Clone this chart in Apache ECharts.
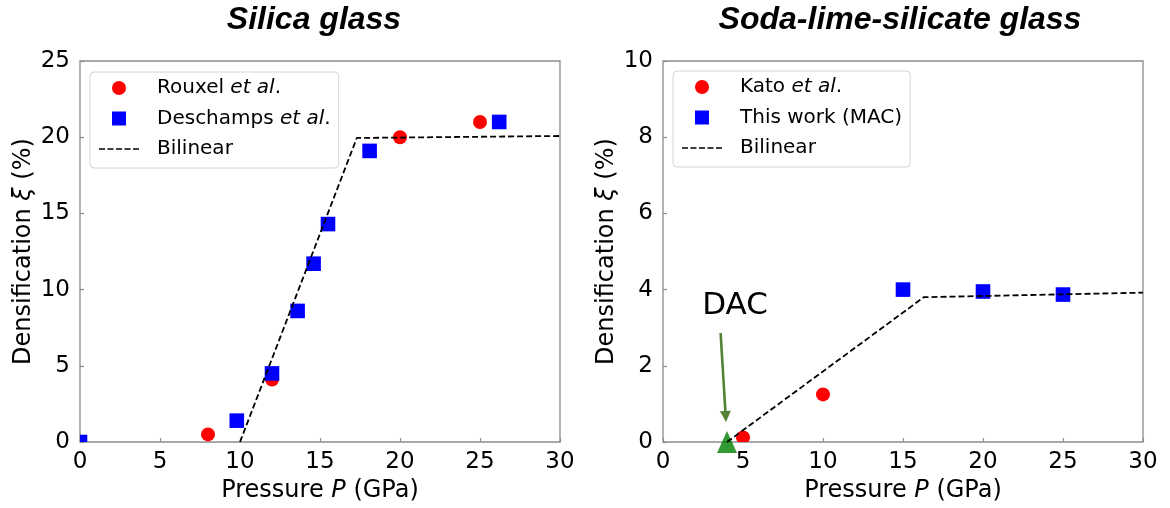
<!DOCTYPE html>
<html>
<head>
<meta charset="utf-8">
<script src="https://cdn.jsdelivr.net/npm/echarts@6/dist/echarts.min.js"></script>
<style>
  html, body { margin: 0; padding: 0; background: #ffffff; }
  #chart { width: 1170px; height: 508px; }
</style>
</head>
<body>
<div id="chart"></div>
<script>
// ---- Silica glass: densification vs pressure ----
const silicaRouxel = [[8, 0.5], [12, 4.1], [20, 20.0], [25, 21.0]];
const silicaDeschamps = [[0, 0], [9.8, 1.4], [12, 4.5], [13.6, 8.6], [14.6, 11.7], [15.5, 14.3], [18.1, 19.1], [26.2, 21.0]];
const silicaBilinear = [[10, 0], [17.3, 19.95], [30, 20.08]];

// ---- Soda-lime-silicate glass ----
const slsKato = [[5, 0.12], [10, 1.25]];
const slsThisWork = [[15, 4.0], [20, 3.95], [25, 3.87]];
const slsBilinear = [[4, 0], [16.3, 3.8], [30, 3.92]];
const slsDac = [[4, 0]];
const dacArrow = [[3.6, 2.86], [3.92, 0.67]];
const dacLabelAt = [4.5, 3.57];

// ---- axis ranges [min, max, step] ----
const pressureRange = [0, 30, 5];
const silicaRange = [0, 25, 5];
const slsRange = [0, 10, 2];

const FONT = 'DejaVu Sans';
const SPINE = '#8c8c8c';
const SQUARE_ICON = 'path://M0,0H1V1H0Z';
// five short dashes, used as the legend key of the dashed fit line
const DASH_ICON = 'path://M0,0h6v1.6h-6z M8.5,0h6v1.6h-6z M17,0h6v1.6h-6z M25.5,0h6v1.6h-6z M34,0h6v1.6h-6z';

// Markers drawn as custom items so they are clipped to the plot box.
function markerItem(shape) {
  return function (params, api) {
    const p = api.coord([api.value(0), api.value(1)]);
    const fill = api.visual('color');
    if (shape === 'circle') {
      return { type: 'circle', shape: { cx: p[0], cy: p[1], r: 7 }, style: { fill: fill } };
    }
    const h = 7.3;
    return { type: 'rect', shape: { x: p[0] - h, y: p[1] - h, width: 2 * h, height: 2 * h }, style: { fill: fill } };
  };
}

function markerSeries(name, idx, data, shape, color, z) {
  return {
    type: 'custom', name: name, xAxisIndex: idx, yAxisIndex: idx,
    data: data, encode: { x: 0, y: 1 }, clip: true, z: z,
    itemStyle: { color: color },
    renderItem: markerItem(shape)
  };
}

function bilinearSeries(idx, data) {
  return {
    type: 'line', name: 'Bilinear', xAxisIndex: idx, yAxisIndex: idx,
    data: data, symbol: 'none', z: 5,
    lineStyle: { color: '#000000', width: 1.8, type: [6, 3] },
    itemStyle: { color: '#000000' }
  };
}

const richItalic = (size) => ({ i: { fontStyle: 'italic', fontFamily: FONT, fontSize: size, color: '#000' } });

function xAxisOf(idx) {
  return {
    gridIndex: idx, type: 'value',
    min: pressureRange[0], max: pressureRange[1], interval: pressureRange[2],
    name: 'Pressure {i|P} (GPa)', nameLocation: 'middle', nameGap: 35,
    nameTextStyle: { fontFamily: FONT, fontSize: 24, color: '#000', rich: richItalic(24) },
    axisLine: { show: false },
    axisTick: { show: true, inside: true, length: 4, lineStyle: { color: SPINE, width: 1.2 } },
    axisLabel: { fontFamily: FONT, fontSize: 23, color: '#000', margin: 9 },
    splitLine: { show: false }
  };
}

function yAxisOf(idx, range) {
  return {
    gridIndex: idx, type: 'value',
    min: range[0], max: range[1], interval: range[2],
    name: 'Densification {i|ξ} (%)', nameLocation: 'middle', nameGap: 44,
    nameTextStyle: { fontFamily: FONT, fontSize: 24, color: '#000', rich: richItalic(24) },
    axisLine: { show: false },
    axisTick: { show: true, inside: true, length: 4, lineStyle: { color: SPINE, width: 1.2 } },
    axisLabel: { fontFamily: FONT, fontSize: 23, color: '#000', margin: 10 },
    splitLine: { show: false }
  };
}

function legendOf(left, top, names) {
  return {
    orient: 'vertical', left: left, top: top,
    data: names, selectedMode: false,
    itemWidth: 40, itemHeight: 14, itemGap: 10.5,
    padding: [6, 8, 9, 9],
    borderColor: '#d4d4d4', borderWidth: 1, borderRadius: 4,
    backgroundColor: 'rgba(255,255,255,0.8)',
    formatter: (n) => n.replace('et al', '{i|et al}'),
    textStyle: {
      fontFamily: FONT, fontSize: 20, color: '#000', lineHeight: 20,
      padding: [0, 0, 0, 13], rich: richItalic(20)
    }
  };
}

const titleStyle = (text) => ({
  text: text, font: 'italic bold 32px "Liberation Sans"', fill: '#000',
  align: 'center', verticalAlign: 'middle', textAlign: 'center', textVerticalAlign: 'middle'
});

const chart = echarts.init(document.getElementById('chart'), null, { renderer: 'canvas' });

chart.setOption({
  animation: false,
  backgroundColor: '#ffffff',
  grid: [
    { left: 80, top: 61, width: 480, height: 381, show: true, borderColor: SPINE, borderWidth: 1.3, backgroundColor: 'transparent' },
    { left: 663, top: 61, width: 480, height: 381, show: true, borderColor: SPINE, borderWidth: 1.3, backgroundColor: 'transparent' }
  ],
  graphic: [
    { type: 'text', x: 314, y: 20, style: titleStyle('Silica glass') },
    { type: 'text', x: 900, y: 20, style: titleStyle('Soda-lime-silicate glass') }
  ],
  legend: [
    legendOf(90, 72, [
      { name: 'Rouxel et al.', icon: 'circle' },
      { name: 'Deschamps et al.', icon: SQUARE_ICON },
      { name: 'Bilinear', icon: DASH_ICON }
    ]),
    legendOf(673, 71, [
      { name: 'Kato et al.', icon: 'circle' },
      { name: 'This work (MAC)', icon: SQUARE_ICON },
      { name: 'Bilinear', icon: DASH_ICON }
    ])
  ],
  xAxis: [xAxisOf(0), xAxisOf(1)],
  yAxis: [yAxisOf(0, silicaRange), yAxisOf(1, slsRange)],
  series: [
    markerSeries('Rouxel et al.', 0, silicaRouxel, 'circle', '#ff0000', 2),
    markerSeries('Deschamps et al.', 0, silicaDeschamps, 'square', '#0000ff', 3),
    bilinearSeries(0, silicaBilinear),

    markerSeries('Kato et al.', 1, slsKato, 'circle', '#ff0000', 2),
    markerSeries('This work (MAC)', 1, slsThisWork, 'square', '#0000ff', 3),
    {
      type: 'scatter', name: 'DAC', xAxisIndex: 1, yAxisIndex: 1,
      data: slsDac, symbol: 'triangle', symbolSize: [20, 22], clip: false, z: 4,
      itemStyle: { color: '#008000' },
      markLine: {
        silent: true, animation: false,
        symbol: ['none', 'triangle'], symbolSize: 11,
        label: { show: false },
        lineStyle: { color: '#548235', width: 2.6, type: 'solid' },
        itemStyle: { color: '#548235' },
        emphasis: { disabled: true },
        data: [[{ coord: dacArrow[0] }, { coord: dacArrow[1] }]]
      },
      markPoint: {
        silent: true, animation: false,
        symbol: 'circle', symbolSize: 1,
        itemStyle: { color: 'rgba(0,0,0,0)' },
        label: { show: true, position: 'inside', formatter: 'DAC', fontFamily: FONT, fontSize: 31, color: '#000' },
        data: [{ coord: dacLabelAt }]
      }
    },
    bilinearSeries(1, slsBilinear)
  ]
});
</script>
</body>
</html>
